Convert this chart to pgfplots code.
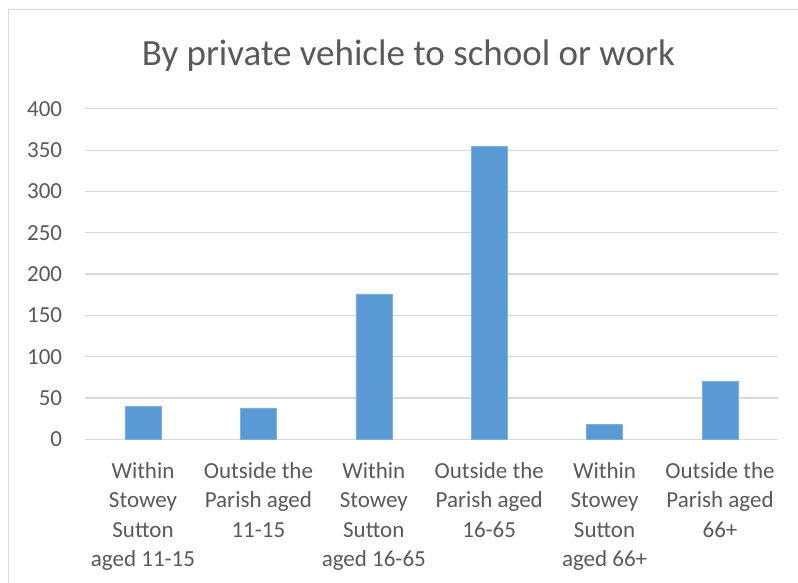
\documentclass[border=0pt]{standalone}
\usepackage{pgfplots}
\pgfplotsset{compat=1.18}
\usepackage{fontspec}
\setmainfont{Carlito}
\definecolor{barblue}{HTML}{5B9BD5}
\definecolor{txt}{HTML}{595959}
\definecolor{gridc}{HTML}{D9D9D9}
\begin{document}
\begin{tikzpicture}
\begin{axis}[
  at={(0pt,0pt)}, anchor=south west,
  scale only axis, width=692.4pt, height=330.4pt,
  xmin=-0.5, xmax=5.5, ymin=0, ymax=400,
  ytick={0,50,...,400},
  xtick={0,1,2,3,4,5},
  xticklabels={{Within\\Stowey\\Sutton\\aged 11-15},{Outside the\\Parish aged\\11-15},{Within\\Stowey\\Sutton\\aged 16-65},{Outside the\\Parish aged\\16-65},{Within\\Stowey\\Sutton\\aged 66+},{Outside the\\Parish aged\\66+}},
  ymajorgrids, grid style={gridc, line width=1.2pt},
  axis line style={draw=none},
  major tick length=0pt,
  /pgf/number format/assume math mode=true,
  yticklabel style={text=txt, font=\fontsize{23}{29.3}\selectfont, anchor=east, inner sep=0pt, xshift=-23pt},
  xticklabel style={text=txt, font=\fontsize{23}{29.3}\selectfont, align=center, anchor=north, inner sep=0pt, yshift=-23pt},
  ybar, bar width=36pt,
]
\addplot[fill=barblue, draw=barblue!80!white] coordinates {(0,40) (1,38) (2,176) (3,355) (4,18.5) (5,70)};
\end{axis}
\node[anchor=base, text=txt, font=\fontsize{37}{44}\selectfont, inner sep=0pt] at (323pt,373.6pt) {By private vehicle to school or work};
\draw[gridc, line width=1pt] (-76.3pt,-160pt) rectangle (730pt,429.3pt);
\pgfresetboundingbox
\path[use as bounding box] (-85.3pt,-143.7pt) rectangle (712.7pt,439.3pt);
\end{tikzpicture}
\end{document}
